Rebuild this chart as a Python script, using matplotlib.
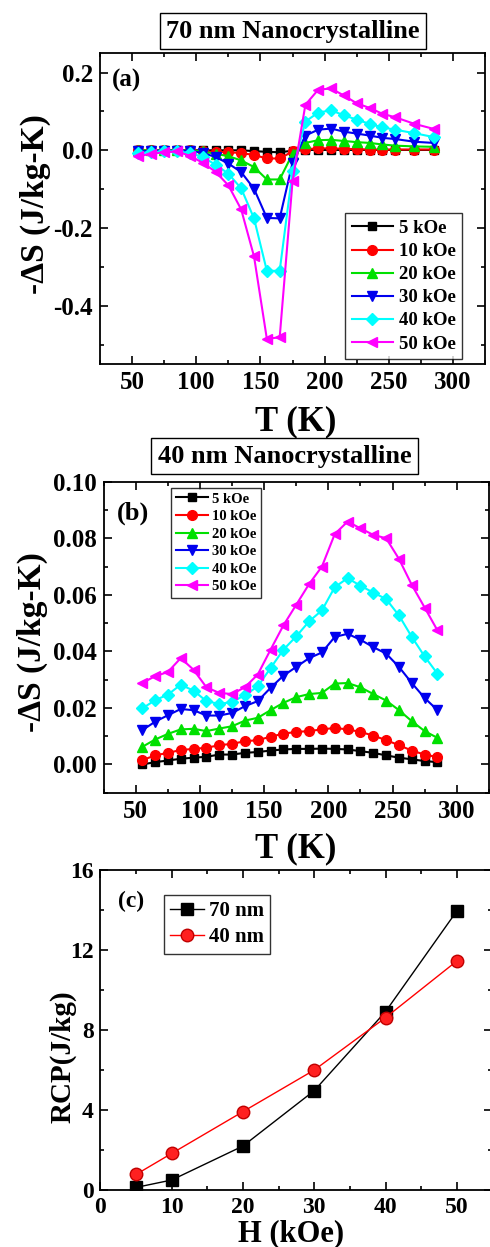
import numpy as np
import matplotlib
matplotlib.use('Agg')
import matplotlib.pyplot as plt
from matplotlib.ticker import MultipleLocator

plt.rcParams['font.family'] = ['Liberation Serif', 'DejaVu Serif']
plt.rcParams['font.weight'] = 'bold'
plt.rcParams['mathtext.default'] = 'regular'

# ---- panel (a): 70 nm ----
T_a = [55, 65, 75, 85, 95, 105, 115, 125, 135, 145, 155, 165, 175,
       185, 195, 205, 215, 225, 235, 245, 255, 270, 285]
dS_a_5 = [0, 0, 0, 0, 0, 0, 0, 0, 0, -0.002, -0.004, -0.005, -0.001,
          0.001, 0.001, 0.001, 0.001, 0.001, 0.001, 0.001, 0.001, 0.001, 0.001]
dS_a_10 = [0, 0, 0, 0, 0, -0.003, -0.004, -0.005, -0.007, -0.012, -0.021, -0.021, -0.003,
           0.003, 0.005, 0.005, 0.004, 0.003, 0.002, 0.002, 0.002, 0.002, 0.002]
dS_a_20 = [0, 0, 0, 0, 0, -0.003, -0.009, -0.015, -0.026, -0.043, -0.075, -0.075, -0.009,
           0.019, 0.026, 0.027, 0.024, 0.021, 0.019, 0.015, 0.012, 0.010, 0.009]
dS_a_30 = [-0.003, -0.001, -0.001, -0.001, -0.001, -0.007, -0.017, -0.034, -0.056, -0.099, -0.174, -0.175, -0.032,
           0.038, 0.053, 0.056, 0.048, 0.043, 0.038, 0.032, 0.029, 0.022, 0.019]
dS_a_40 = [-0.007, -0.005, -0.003, -0.003, -0.007, -0.017, -0.037, -0.060, -0.098, -0.175, -0.310, -0.310, -0.054,
           0.074, 0.097, 0.103, 0.090, 0.079, 0.068, 0.059, 0.053, 0.044, 0.034]
dS_a_50 = [-0.015, -0.009, -0.005, -0.003, -0.014, -0.032, -0.055, -0.090, -0.152, -0.273, -0.485, -0.481, -0.080,
           0.117, 0.156, 0.159, 0.141, 0.121, 0.109, 0.094, 0.085, 0.068, 0.055]

# ---- panel (b): 40 nm ----
T_b = [55, 65, 75, 85, 95, 105, 115, 125, 135, 145, 155, 165, 175,
       185, 195, 205, 215, 225, 235, 245, 255, 265, 275, 285]
dS_b_5 = [0.0, 0.0008, 0.0014, 0.0020, 0.0024, 0.0027, 0.0035, 0.0035, 0.0041, 0.0044, 0.0049, 0.0053,
          0.0055, 0.0055, 0.0056, 0.0055, 0.0053, 0.0047, 0.0041, 0.0032, 0.0024, 0.0018, 0.0012, 0.0008]
dS_b_10 = [0.0015, 0.0032, 0.0041, 0.0051, 0.0055, 0.0059, 0.0068, 0.0073, 0.0082, 0.0086, 0.0098, 0.0109,
           0.0115, 0.0118, 0.0124, 0.0129, 0.0124, 0.0115, 0.0102, 0.0086, 0.0068, 0.0049, 0.0035, 0.0026]
dS_b_20 = [0.0062, 0.0088, 0.0108, 0.0124, 0.0126, 0.0118, 0.0127, 0.0135, 0.0155, 0.0165, 0.0192, 0.0218,
           0.0238, 0.0249, 0.0253, 0.0286, 0.0288, 0.0273, 0.0249, 0.0226, 0.0192, 0.0153, 0.0118, 0.0094]
dS_b_30 = [0.0121, 0.0151, 0.0174, 0.0196, 0.0192, 0.0173, 0.0173, 0.0182, 0.0206, 0.0224, 0.0271, 0.0314,
           0.0345, 0.0376, 0.0396, 0.0451, 0.0462, 0.0441, 0.0415, 0.0392, 0.0345, 0.0288, 0.0235, 0.0192]
dS_b_40 = [0.0198, 0.0227, 0.0247, 0.0282, 0.0261, 0.0224, 0.0214, 0.0221, 0.0245, 0.0276, 0.0341, 0.0406,
           0.0453, 0.0506, 0.0545, 0.0627, 0.0659, 0.0632, 0.0608, 0.0585, 0.0527, 0.0451, 0.0382, 0.0321]
dS_b_50 = [0.0288, 0.0312, 0.0327, 0.0376, 0.0335, 0.0273, 0.0253, 0.0249, 0.0273, 0.0318, 0.0406, 0.0492,
           0.0565, 0.0638, 0.0700, 0.0815, 0.0859, 0.0835, 0.0812, 0.0800, 0.0727, 0.0635, 0.0555, 0.0474]

# ---- panel (c): RCP ----
H = [5, 10, 20, 30, 40, 50]
rcp_70 = [0.13, 0.5, 2.2, 4.97, 8.92, 13.95]
rcp_40 = [0.78, 1.83, 3.92, 6.0, 8.62, 11.45]

fields = ['5 kOe', '10 kOe', '20 kOe', '30 kOe', '40 kOe', '50 kOe']
colors = ['black', 'red', '#00e000', '#0000ee', 'cyan', 'magenta']
markers = ['s', 'o', '^', 'v', 'D', '<']
msizes = [6, 7, 7, 7, 6, 7]


def style_axes(ax, tick_fs):
    ax.tick_params(which='both', direction='in', top=True, right=True, width=1.2)
    ax.tick_params(which='major', length=6, labelsize=tick_fs, pad=5)
    ax.tick_params(which='minor', length=3)
    for s in ax.spines.values():
        s.set_linewidth(1.3)
    for lab in ax.get_xticklabels() + ax.get_yticklabels():
        lab.set_fontweight('bold')


fig = plt.figure(figsize=(4.9, 12.47), dpi=100)

# (a)
ax1 = fig.add_axes([0.204, 0.708, 0.786, 0.2494])
for ys, c, m, ms, lab in zip([dS_a_5, dS_a_10, dS_a_20, dS_a_30, dS_a_40, dS_a_50],
                             colors, markers, msizes, fields):
    ax1.plot(T_a, ys, color=c, marker=m, markersize=ms, lw=1.5, label=lab)
ax1.set_xlim(25, 325)
ax1.set_ylim(-0.55, 0.25)
ax1.xaxis.set_minor_locator(MultipleLocator(25))
ax1.yaxis.set_minor_locator(MultipleLocator(0.1))
ax1.set_xticks([50, 100, 150, 200, 250, 300])
ax1.set_yticks([-0.4, -0.2, 0.0, 0.2])
ax1.set_yticklabels(['-0.4', '-0.2', '0.0', '0.2'])
style_axes(ax1, 18)
leg = ax1.legend(loc='lower right', bbox_to_anchor=(0.94, 0.016), borderaxespad=0,
                 fancybox=False, edgecolor='black', prop={'size': 13.5, 'weight': 'bold'},
                 handlelength=2.2, borderpad=0.35, labelspacing=0.32, handletextpad=0.3)
leg.get_frame().set_linewidth(1.0)
ax1.text(0.031, 0.95, '(a)', transform=ax1.transAxes, fontsize=18,
         fontweight='bold', va='top', ha='left')
fig.text(0.598, 0.975, '70 nm Nanocrystalline', ha='center', va='center', fontsize=19,
         fontweight='bold', bbox=dict(boxstyle='square,pad=0.25', fc='white', ec='black', lw=1.0))
fig.text(0.604, 0.662, 'T (K)', ha='center', va='center', fontsize=25, fontweight='bold')
fig.text(0.072, 0.836, '-ΔS (J/kg-K)', ha='center', va='center', rotation=90,
         fontsize=24, fontweight='bold')

# (b)
ax2 = fig.add_axes([0.2116, 0.3643, 0.786, 0.2494])
for ys, c, m, ms, lab in zip([dS_b_5, dS_b_10, dS_b_20, dS_b_30, dS_b_40, dS_b_50],
                             colors, markers, msizes, fields):
    ax2.plot(T_b, ys, color=c, marker=m, markersize=ms, lw=1.5, label=lab)
ax2.set_xlim(25, 325)
ax2.set_ylim(-0.01, 0.10)
ax2.set_xticks([50, 100, 150, 200, 250, 300])
ax2.xaxis.set_minor_locator(MultipleLocator(25))
ax2.set_yticks([0.0, 0.02, 0.04, 0.06, 0.08, 0.10])
ax2.set_yticklabels(['0.00', '0.02', '0.04', '0.06', '0.08', '0.10'])
ax2.yaxis.set_minor_locator(MultipleLocator(0.01))
style_axes(ax2, 18)
leg = ax2.legend(loc='upper left', bbox_to_anchor=(0.176, 0.98), borderaxespad=0,
                 fancybox=False, edgecolor='black', prop={'size': 10.5, 'weight': 'bold'},
                 handlelength=2.2, borderpad=0.3, labelspacing=0.3, handletextpad=0.3)
leg.get_frame().set_linewidth(1.0)
ax2.text(0.035, 0.935, '(b)', transform=ax2.transAxes, fontsize=19,
         fontweight='bold', va='top', ha='left')
fig.text(0.581, 0.634, '40 nm Nanocrystalline', ha='center', va='center', fontsize=19,
         fontweight='bold', bbox=dict(boxstyle='square,pad=0.25', fc='white', ec='black', lw=1.0))
fig.text(0.604, 0.319, 'T (K)', ha='center', va='center', fontsize=25, fontweight='bold')
fig.text(0.066, 0.485, '-ΔS (J/kg-K)', ha='center', va='center', rotation=90,
         fontsize=24, fontweight='bold')

# (c)
ax3 = fig.add_axes([0.205, 0.0457, 0.80, 0.2566])
ax3.plot(H, rcp_70, color='black', marker='s', markersize=9, lw=1.0, label='70 nm')
ax3.plot(H, rcp_40, color='red', marker='o', markersize=9, lw=1.0, label='40 nm',
         markeredgecolor='#c00000', markerfacecolor='#ff2020')
ax3.set_xlim(0, 55)
ax3.set_ylim(0, 16)
ax3.set_xticks([0, 10, 20, 30, 40, 50])
ax3.xaxis.set_minor_locator(MultipleLocator(5))
ax3.set_yticks([0, 4, 8, 12, 16])
ax3.yaxis.set_minor_locator(MultipleLocator(2))
style_axes(ax3, 17)
leg = ax3.legend(loc='upper left', bbox_to_anchor=(0.162, 0.922), borderaxespad=0,
                 fancybox=False, edgecolor='black', prop={'size': 15, 'weight': 'bold'},
                 handlelength=1.6, borderpad=0.3, labelspacing=0.3, handletextpad=0.25)
leg.get_frame().set_linewidth(1.0)
ax3.text(0.045, 0.935, '(c)', transform=ax3.transAxes, fontsize=17,
         fontweight='bold', va='top', ha='left')
fig.text(0.595, 0.011, 'H (kOe)', ha='center', va='center', fontsize=22, fontweight='bold')
fig.text(0.128, 0.1526, 'RCP(J/kg)', ha='center', va='center', rotation=90,
         fontsize=21, fontweight='bold')

fig.savefig('out.png', dpi=100)
